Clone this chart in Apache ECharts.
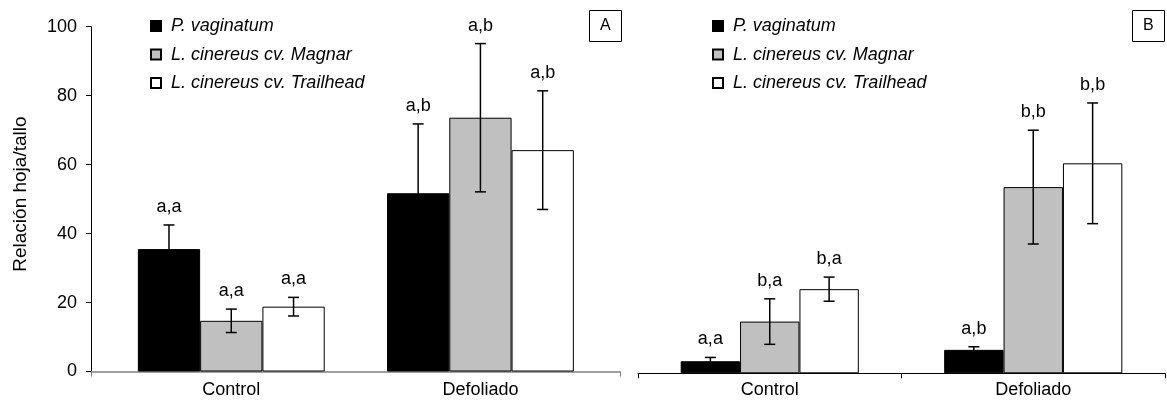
<!DOCTYPE html>
<html>
<head>
<meta charset="utf-8">
<script src="https://cdn.jsdelivr.net/npm/echarts@6/dist/echarts.min.js"></script>
<style>
  html, body { margin: 0; padding: 0; background: #fff; }
  #chart { width: 1167px; height: 401px; }
</style>
</head>
<body>
<div id="chart"></div>
<script>
// Categories and series names
const categories = ['Control', 'Defoliado'];
const seriesNames = ['P. vaginatum', 'L. cinereus cv. Magnar', 'L. cinereus cv. Trailhead'];
const yTicks = [0, 20, 40, 60, 80, 100];

// Panel A: means, standard errors, significance letters
const aVaginatum = [35.5, 51.7];
const aMagnar = [14.7, 73.6];
const aTrailhead = [18.8, 64.2];
const aVaginatumErr = [7.0, 20.1];
const aMagnarErr = [3.4, 21.5];
const aTrailheadErr = [2.7, 17.2];
const aVaginatumLetters = ['a,a', 'a,b'];
const aMagnarLetters = ['a,a', 'a,b'];
const aTrailheadLetters = ['a,a', 'a,b'];

// Panel B: means, standard errors, significance letters
const bVaginatum = [3.5, 6.8];
const bMagnar = [15.0, 54.0];
const bTrailhead = [24.4, 60.9];
const bVaginatumErr = [1.1, 0.9];
const bMagnarErr = [6.6, 16.5];
const bTrailheadErr = [3.5, 17.5];
const bVaginatumLetters = ['a,a', 'a,b'];
const bMagnarLetters = ['b,a', 'b,b'];
const bTrailheadLetters = ['b,a', 'b,b'];

const FONT = '"Liberation Sans", Arial, sans-serif';
const FS = 18;
const fills = ['#000000', '#c0c0c0', '#ffffff'];
const gapA = 0.25;
const gapB = 0.324;

function barSeries(name, idx, data, axis, gap) {
  return {
    name: name,
    type: 'bar',
    xAxisIndex: axis,
    yAxisIndex: axis,
    data: data,
    barGap: 0,
    barCategoryGap: (gap * 100) + '%',
    itemStyle: { color: fills[idx], borderColor: '#000', borderWidth: 1 },
    emphasis: { disabled: true },
    z: 2
  };
}

// Error bar with caps plus the letters drawn above the upper cap
function errorSeries(name, idx, means, errs, letters, axis, gap) {
  return {
    name: name,
    type: 'custom',
    xAxisIndex: axis,
    yAxisIndex: axis,
    z: 5,
    silent: true,
    data: means.map((m, i) => [i, m, errs[i]]),
    renderItem: function (params, api) {
      const i = api.value(0), m = api.value(1), e = api.value(2);
      const band = api.size([1, 0])[0];
      const barW = band * (1 - gap) / 3;
      const cx = api.coord([i, m])[0] + (idx - 1) * barW;
      const yTop = api.coord([i, m + e])[1];
      const yBot = api.coord([i, Math.max(0, m - e)])[1];
      const cap = 5.5;
      const ls = { stroke: '#000', lineWidth: 1.5 };
      return {
        type: 'group',
        children: [
          { type: 'line', shape: { x1: cx, y1: yTop, x2: cx, y2: yBot }, style: ls },
          { type: 'line', shape: { x1: cx - cap, y1: yTop, x2: cx + cap, y2: yTop }, style: ls },
          { type: 'line', shape: { x1: cx - cap, y1: yBot, x2: cx + cap, y2: yBot }, style: ls },
          { type: 'text', style: { text: letters[params.dataIndex], x: cx, y: yTop - 9,
              align: 'center', verticalAlign: 'bottom', fontSize: FS, fontFamily: FONT, fill: '#000' } }
        ]
      };
    }
  };
}

function legend(left) {
  return {
    data: seriesNames,
    orient: 'vertical',
    left: left,
    top: 12,
    itemWidth: 10,
    itemHeight: 10,
    itemGap: 10.5,
    icon: 'rect',
    selectedMode: false,
    textStyle: { fontSize: FS, fontStyle: 'italic', fontFamily: FONT, color: '#000', padding: [0, 0, 0, 5] }
  };
}

const chart = echarts.init(document.getElementById('chart'), null, { renderer: 'canvas' });

chart.setOption({
  animation: false,
  backgroundColor: '#fff',
  textStyle: { fontFamily: FONT },
  title: [
    { text: 'A', left: 589, top: 10, padding: [8, 11, 8, 11], borderColor: '#000', borderWidth: 1,
      textStyle: { fontSize: 16, fontWeight: 'normal', fontFamily: FONT, color: '#000' } },
    { text: 'B', left: 1132, top: 10, padding: [8, 11, 8, 11], borderColor: '#000', borderWidth: 1,
      textStyle: { fontSize: 16, fontWeight: 'normal', fontFamily: FONT, color: '#000' } }
  ],
  legend: [legend(145), legend(707)],
  grid: [
    { left: 106.7, right: 562, top: 26.7, bottom: 29.5 },
    { left: 91, right: 547, top: 26.7, bottom: 29.5 },
    { left: 638, right: 2, top: 28.5, bottom: 27.7 }
  ],
  xAxis: [
    { gridIndex: 0, type: 'category', data: categories,
      axisLine: { show: false }, axisTick: { show: false },
      axisLabel: { margin: 10, fontSize: FS, fontFamily: FONT, color: '#000' } },
    { gridIndex: 1, type: 'value', min: 0, max: 1, interval: 1,
      axisLine: { lineStyle: { color: '#808080', width: 1.5 } },
      axisTick: { show: true, inside: false, length: 5, lineStyle: { color: '#808080' } },
      axisLabel: { show: false }, splitLine: { show: false } },
    { gridIndex: 2, type: 'category', data: categories,
      axisLine: { lineStyle: { color: '#000', width: 1 } },
      axisTick: { show: true, alignWithLabel: false, length: 5, lineStyle: { color: '#000' } },
      axisLabel: { margin: 8, fontSize: FS, fontFamily: FONT, color: '#000' } }
  ],
  yAxis: [
    { gridIndex: 0, type: 'value', min: 0, max: 100, interval: 20, offset: 15.7,
      name: 'Relación hoja/tallo', nameLocation: 'middle', nameGap: 61, nameRotate: 90,
      nameTextStyle: { fontSize: 19, fontFamily: FONT, color: '#000', padding: [0, 0, 0, 10] },
      axisLine: { show: true, lineStyle: { color: '#000', width: 1 } },
      axisTick: { show: true, length: 5, lineStyle: { color: '#000' } },
      axisLabel: { fontSize: FS, fontFamily: FONT, color: '#000', margin: 14,
        formatter: v => (yTicks.indexOf(v) >= 0 ? String(v) : '') },
      splitLine: { show: false } },
    { gridIndex: 1, type: 'value', min: 0, max: 100, show: false },
    { gridIndex: 2, type: 'value', min: 0, max: 100, interval: 20, show: false }
  ],
  series: [
    barSeries(seriesNames[0], 0, aVaginatum, 0, gapA),
    barSeries(seriesNames[1], 1, aMagnar, 0, gapA),
    barSeries(seriesNames[2], 2, aTrailhead, 0, gapA),
    barSeries(seriesNames[0], 0, bVaginatum, 2, gapB),
    barSeries(seriesNames[1], 1, bMagnar, 2, gapB),
    barSeries(seriesNames[2], 2, bTrailhead, 2, gapB),
    errorSeries(seriesNames[0], 0, aVaginatum, aVaginatumErr, aVaginatumLetters, 0, gapA),
    errorSeries(seriesNames[1], 1, aMagnar, aMagnarErr, aMagnarLetters, 0, gapA),
    errorSeries(seriesNames[2], 2, aTrailhead, aTrailheadErr, aTrailheadLetters, 0, gapA),
    errorSeries(seriesNames[0], 0, bVaginatum, bVaginatumErr, bVaginatumLetters, 2, gapB),
    errorSeries(seriesNames[1], 1, bMagnar, bMagnarErr, bMagnarLetters, 2, gapB),
    errorSeries(seriesNames[2], 2, bTrailhead, bTrailheadErr, bTrailheadLetters, 2, gapB)
  ]
});
</script>
</body>
</html>
